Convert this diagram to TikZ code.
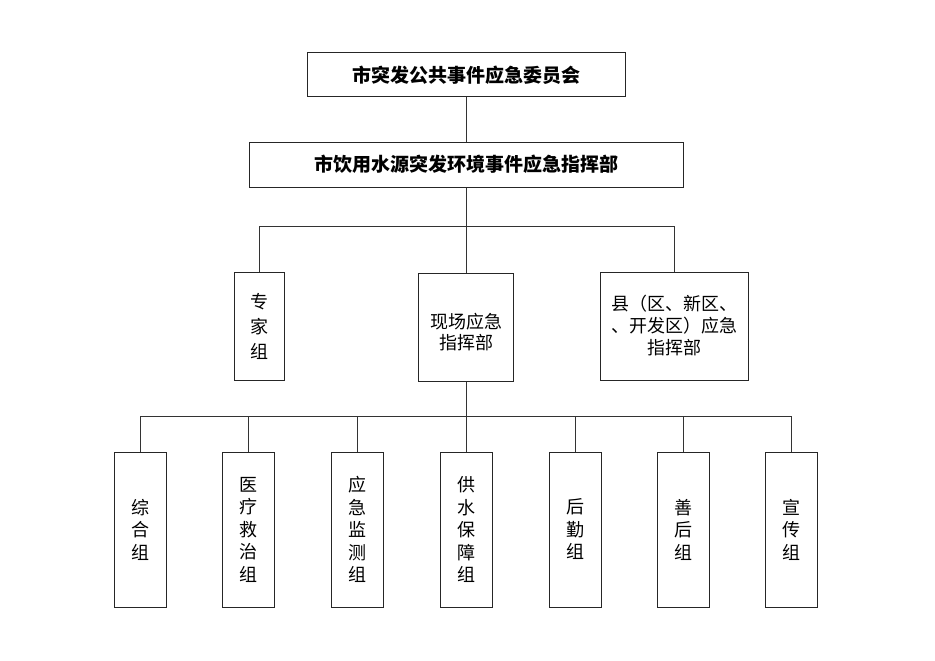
\documentclass[tikz,border=0pt]{standalone}
\usepackage{fontspec}
\newfontfamily\cjk{Noto Sans CJK SC}
\begin{document}
\begin{tikzpicture}[x=1pt,y=-1pt,
  box/.style={draw=black!85,line width=1pt,inner sep=0pt,align=center,
    font=\cjk\fontsize{18}{22}\selectfont},
  topbox/.style={box,font=\cjk\bfseries\fontsize{19}{22}\selectfont},
  txt/.style={inner sep=0pt,align=center,font=\cjk\fontsize{18}{21}\selectfont},
  conn/.style={draw=black!80,line width=1pt}]
\useasboundingbox (0,0) rectangle (935,661);
\fill[white] (0,0) rectangle (935,661);
\node[topbox,minimum width=318pt,minimum height=44pt] (top) at (466,75) {市突发公共事件应急委员会};
\node[topbox,minimum width=434pt,minimum height=45pt] (cmd) at (466,164.5) {市饮用水源突发环境事件应急指挥部};
\node[box,minimum width=50pt,minimum height=108pt] (expert) at (259,326) {专\\[3pt]家\\[3pt]组};
\node[box,minimum width=95pt,minimum height=108pt] (field) at (466,327) {};
\node[txt] (fieldtxt) at (466,332) {现场应急\\指挥部};
\node[box,minimum width=148pt,minimum height=108pt] (county) at (674,326) {县（区、新区、\\、开发区）应急\\指挥部};
\coordinate (busA) at (466,226);
\coordinate (busB) at (466,416);
\foreach \n/\x/\t in {g1/140.5/{综\\合\\组},g2/248.5/{医\\疗\\救\\治\\组},g3/357/{应\\急\\监\\测\\组},g4/466/{供\\水\\保\\障\\组},g5/575/{后\\勤\\组},g6/683/{善\\后\\组},g7/791/{宣\\传\\组}}{
  \node[box,minimum width=52pt,minimum height=155pt,font=\cjk\fontsize{18}{22.5}\selectfont] (\n) at (\x,529.5) {\t};
}
\draw[conn] (top) -- (cmd);
\draw[conn] (cmd) -- (busA);
\draw[conn] (busA) -| (expert);
\draw[conn] (busA) -| (county);
\draw[conn] (busA) -- (field);
\draw[conn] (field) -- (busB);
\foreach \n in {g1,g2,g3,g4,g5,g6,g7}{
  \draw[conn] (busB) -| (\n);
}
\end{tikzpicture}
\end{document}
